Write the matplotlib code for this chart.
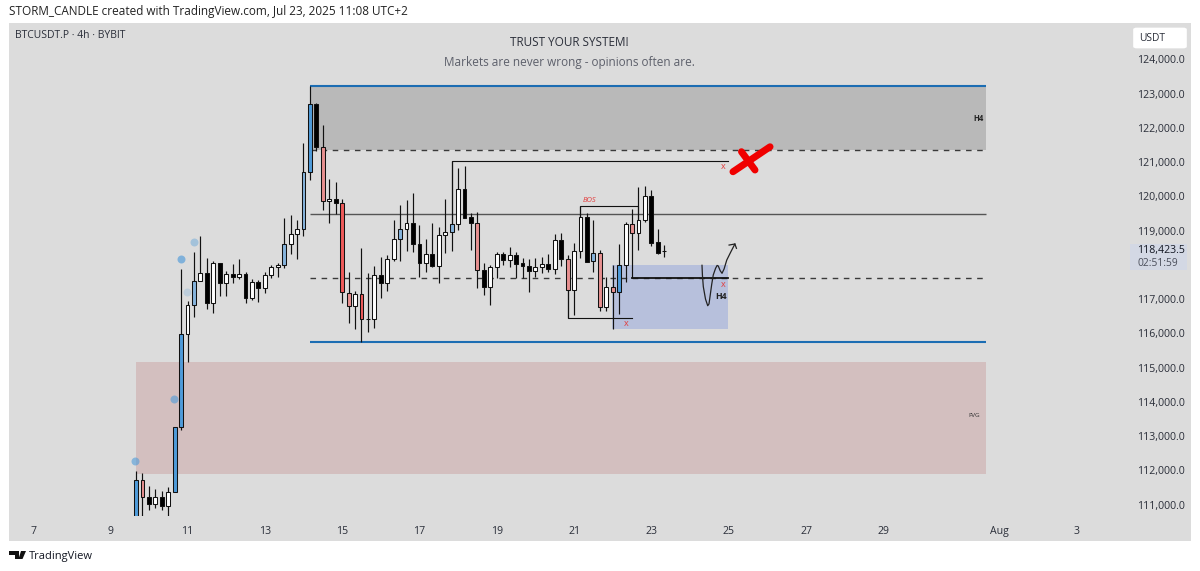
import matplotlib
matplotlib.use("Agg")
import matplotlib.pyplot as plt
from matplotlib.patches import Rectangle, FancyBboxPatch, Polygon

FONT = "Open Sans"
plt.rcParams["font.family"] = [FONT, "DejaVu Sans"]

# --- candles (4h bars), first bar on day 9.665 of July
first_day = 9.665
opens = [110600,111717,111212,111016,111212,110967,111358,113265,115973,116829,117539,117772,116879,118047,117480,117743,117655,117743,117033,117492,117334,117696,117930,117997,118602,118903,119040,120705,122691,121444,119867,119917,119808,117188,116809,117141,116411,116411,117714,117480,118173,118748,119040,119215,118611,118065,118310,117959,118882,118970,119186,120217,119391,119215,117851,117363,117930,118327,118143,118298,118047,117968,117813,117948,118018,117881,118719,118173,117258,118406,119391,118105,118348,116779,117363,117209,117997,119186,118923,119312,120022,118660,118397]
highs = [111989,111922,111542,111454,111405,111513,113265,117872,116946,118377,118844,118211,118114,118065,117822,118027,118181,117802,117589,117559,117784,117997,118047,119361,119449,119312,121570,123235,122721,122078,120509,120431,119917,117784,117247,118485,117755,117977,118240,118281,119312,119750,119896,120109,119166,118757,119215,119116,119917,121035,120840,120889,119525,119545,118047,117997,118386,118368,118514,118368,118193,118164,118193,118240,118319,118903,118923,118289,118649,119721,119525,119312,118435,117655,117989,118611,119245,119624,120285,120305,120188,119040,118582]
lows = [110600,110600,110841,110899,110841,110665,111358,113178,115164,116478,117530,116721,116604,117092,117092,117463,117580,116879,116975,116925,117188,117626,117655,117918,118310,118164,118853,120480,121327,119604,119233,119487,116879,116294,116119,115739,116049,116166,117025,117247,118123,118123,118406,118386,117655,117802,117948,117463,118357,118406,119020,119361,118435,117317,117121,116829,117626,117997,117930,117609,117609,117217,117655,117755,117802,117734,117968,116440,116537,118193,118094,117802,116663,116663,116119,116566,117510,117609,118435,119245,118552,118319,118240]
closes = [111717,111212,111016,111212,110967,111358,113265,115973,116829,117539,117772,116879,118047,117480,117743,117655,117743,117033,117492,117334,117696,117930,117997,118602,118903,119040,120705,122691,121444,119867,119917,119808,117200,116809,117141,116411,116411,117714,117480,118173,118748,119040,119215,118611,118065,118310,117959,118882,118970,119186,120217,119379,119215,117851,117363,117930,118327,118143,118298,118035,117968,117813,117948,118018,117881,118719,118173,117258,118406,119391,118094,118348,116779,117363,117209,117997,119186,118923,119312,120022,118649,118357,118397]
bar_kinds = list("bpkwkwbbwlwkwkwkwkwkwwwlwwlbkpwkrpwrwwkwwlwkkwkwwlwkkpkwwkwkkkwwkwkpwwklpwpbwpwwkkk")
kind_colors = {"w": "#ffffff", "k": "#000000", "b": "#4f9bd9", "l": "#86b4dc",
               "r": "#ee5a5a", "p": "#e79090"}

# --- axis
y_ticks = [111000,112000,113000,114000,115000,116000,117000,118000,119000,120000,121000,122000,123000,124000]
y_labels = ["111,000.0","112,000.0","113,000.0","114,000.0","115,000.0","116,000.0","117,000.0","",
            "119,000.0","120,000.0","121,000.0","122,000.0","123,000.0","124,000.0"]
x_ticks = [7,9,11,13,15,17,19,21,23,25,27,29,32,34]
x_labels = ["7","9","11","13","15","17","19","21","23","25","27","29","Aug","3"]

# --- zones and levels (day, price)
zone_left, zone_right = 14.167, 31.657
supply_top, supply_bottom = 123235, 121357
mid_line = 119487
eq_line = 117618
support_line = 115757
fvg_left = 9.665
fvg_top, fvg_bottom = 115164, 111892
demand_left, demand_right = 21.98, 24.98
demand_top, demand_bottom = 117989, 116119

# --- structure lines
high_days = [17.832, 17.832, 24.98]
high_prices = [119186, 121035, 121035]
bos_days = [21.165, 21.165, 22.665, 22.665]
bos_prices = [119391, 119721, 119721, 119312]
low_days = [20.832, 20.832, 22.498]
low_prices = [117258, 116440, 116440]
reclaim_days = [22.498, 24.98]
reclaim_prices = [117609, 117609]

# --- projected path
path_days = [24.309,24.32,24.343,24.40,24.457,24.49,24.516,24.56,24.60,24.66,24.70,24.73,24.78,24.827,24.88,24.95,25.05,25.16]
path_prices = [117989,117700,117364,117000,116808,116860,117071,117430,117705,117900,117985,117968,117830,117755,117880,118143,118370,118611]
head_days = [25.01, 25.16, 25.20]
head_prices = [118580, 118611, 118485]

# --- red cross
cross_a_days = [25.11, 26.07]
cross_a_prices = [120721, 121451]
cross_b_days = [25.33, 25.68]
cross_b_prices = [121307, 120772]

# --- dots
dot_days = [9.647, 10.648, 10.82, 10.985, 11.158]
dot_prices = [112281, 114083, 118164, 117217, 118660]
dot_alphas = [0.6, 0.6, 0.65, 0.22, 0.4]

# --- small labels (day, price)
x_mark_days = [24.85, 22.34, 24.85]
x_mark_prices = [120889, 116303, 117442]
last_price_label = "118,423.5"
countdown_label = "02:51:59"

W, H = 1200, 571
fig = plt.figure(figsize=(12, 5.71), dpi=100, facecolor="white")
GRAY = "#dcdcdc"
fig.patches.append(Rectangle((9/W, 1-541/H), (1191-9)/W, (541-23)/H, transform=fig.transFigure,
                             facecolor=GRAY, edgecolor="none", zorder=-5))

ax = fig.add_axes([9/W, 1-516/H, (1127-9)/W, (516-23)/H])
ax.patch.set_alpha(0)
ax.set_xlim(6.379, 35.305)
ax.set_ylim(110666, 125066)
for s in ax.spines.values():
    s.set_visible(False)
ax.yaxis.tick_right()
ax.set_yticks(y_ticks, y_labels)
ax.set_xticks(x_ticks, x_labels)
ax.tick_params(axis="y", length=0, pad=7, labelsize=7.6, labelcolor="#2a2e39")
ax.tick_params(axis="x", length=0, pad=7, labelsize=7.6, labelcolor="#2a2e39")

# zones
ax.add_patch(Rectangle((zone_left, supply_bottom), zone_right-zone_left, supply_top-supply_bottom,
                       facecolor="#b9b9b9", edgecolor="none", zorder=1))
ax.add_patch(Rectangle((fvg_left, fvg_bottom), zone_right-fvg_left, fvg_top-fvg_bottom,
                       facecolor="#d3bfbf", edgecolor="none", zorder=1))
ax.add_patch(Rectangle((demand_left, demand_bottom), demand_right-demand_left, demand_top-demand_bottom,
                       facecolor="#b7c0dc", edgecolor="none", zorder=1))

# levels
ax.hlines([supply_top, support_line], zone_left, zone_right, color="#1c6db3", lw=1.5, zorder=2)
ax.hlines([supply_bottom, eq_line], zone_left, zone_right, color="#3a3a3a", lw=1.0,
          linestyles=(0, (4, 4)), zorder=2)
ax.hlines(mid_line, zone_left, zone_right, color="#555555", lw=1.0, zorder=2)

# candles
for i, (o, h, l, c, k) in enumerate(zip(opens, highs, lows, closes, bar_kinds)):
    d = first_day + i/6
    ax.vlines(d, l, h, color="#111111", lw=0.85, zorder=3)
    ax.bar(d, max(abs(c-o), 8), bottom=min(o, c), width=0.1, color=kind_colors[k],
           edgecolor="#111111", linewidth=0.75, zorder=4)

# structure
for dx, py, lw in [(high_days, high_prices, 0.8), (bos_days, bos_prices, 0.8),
                   (low_days, low_prices, 0.8), (reclaim_days, reclaim_prices, 1.3)]:
    ax.plot(dx, py, color="#111111", lw=lw, zorder=3.5, solid_joinstyle="miter")

# projection
ax.plot(path_days, path_prices, color="#222222", lw=0.9, zorder=5)
ax.plot(head_days, head_prices, color="#222222", lw=0.9, zorder=5)

# cross
for dx, py in [(cross_a_days, cross_a_prices), (cross_b_days, cross_b_prices)]:
    ax.plot(dx, py, color="#f00000", lw=5, solid_capstyle="round", zorder=6)

# dots
for d, p, a in zip(dot_days, dot_prices, dot_alphas):
    ax.scatter([d], [p], s=33, color="#4f9bd9", alpha=a, linewidths=0, zorder=6)

# small labels
for d, p in zip(x_mark_days, x_mark_prices):
    ax.text(d, p, "x", color="#e23c3c", fontsize=6.5, ha="center", va="center", zorder=6)
ax.text(21.386, 119896, "BOS", color="#e23c3c", fontsize=5.4, style="italic", ha="center", va="center", zorder=6)
ax.text(24.8, 117063, "H4", color="#222222", fontsize=6.3, weight="bold", ha="center", va="center", zorder=6)
ax.text(31.45, 122291, "H4", color="#222222", fontsize=5.5, weight="bold", ha="center", va="center", zorder=6)
ax.text(31.35, 113587, "FVG", color="#333333", fontsize=4.6, ha="center", va="center", zorder=6)

# header texts
fig.text(9/W, 1-11.5/H, "STORM_CANDLE created with TradingView.com, Jul 23, 2025 11:08 UTC+2",
         fontsize=8.5, color="#222222", ha="left", va="center")
fig.text(15/W, 1-35.5/H, "BTCUSDT.P · 4h · BYBIT", fontsize=7.5, color="#2a2e39", ha="left", va="center")
fig.text(569/W, 1-42/H, "TRUST YOUR SYSTEM!", fontsize=8.5, color="#2a2e39", ha="center", va="center")
fig.text(569/W, 1-62.5/H, "Markets are never wrong - opinions often are.", fontsize=8.5,
         color="#5d606b", ha="center", va="center")

# price scale widgets
fig.patches.append(FancyBboxPatch((1135/W, 1-47.5/H), 50/W, 19/H, boxstyle="round,pad=0.0015,rounding_size=0.003",
                                  transform=fig.transFigure, facecolor="white", edgecolor="none", zorder=-4))
fig.text(1152/W, 1-38.5/H, "USDT", fontsize=7.4, color="#2a2e39", ha="center", va="center")
fig.patches.append(Rectangle((1130/W, 1-270/H), 57/W, 26/H, transform=fig.transFigure,
                             facecolor="#d3d8e4", edgecolor="none", zorder=-4))
fig.text(1137/W, 1-251/H, last_price_label, fontsize=7.6, color="#131722", ha="left", va="center")
fig.text(1137/W, 1-263/H, countdown_label, fontsize=7.4, color="#4a4e5a", ha="left", va="center")

# footer logo
fig.patches.append(Polygon([(9/W,1-551/H),(19/W,1-551/H),(19/W,1-559/H),(14.5/W,1-559/H),(14.5/W,1-555/H),(9/W,1-555/H)],
                           closed=True, transform=fig.transFigure, facecolor="#111111", edgecolor="none"))
fig.patches.append(Polygon([(21/W,1-551/H),(26/W,1-551/H),(22.5/W,1-559/H),(18.5/W,1-559/H)],
                           closed=True, transform=fig.transFigure, facecolor="#111111", edgecolor="none"))
fig.text(29/W, 1-556/H, "TradingView", fontsize=8.0, color="#131722", ha="left", va="center")

fig.savefig("out.png", dpi=100, facecolor="white")
